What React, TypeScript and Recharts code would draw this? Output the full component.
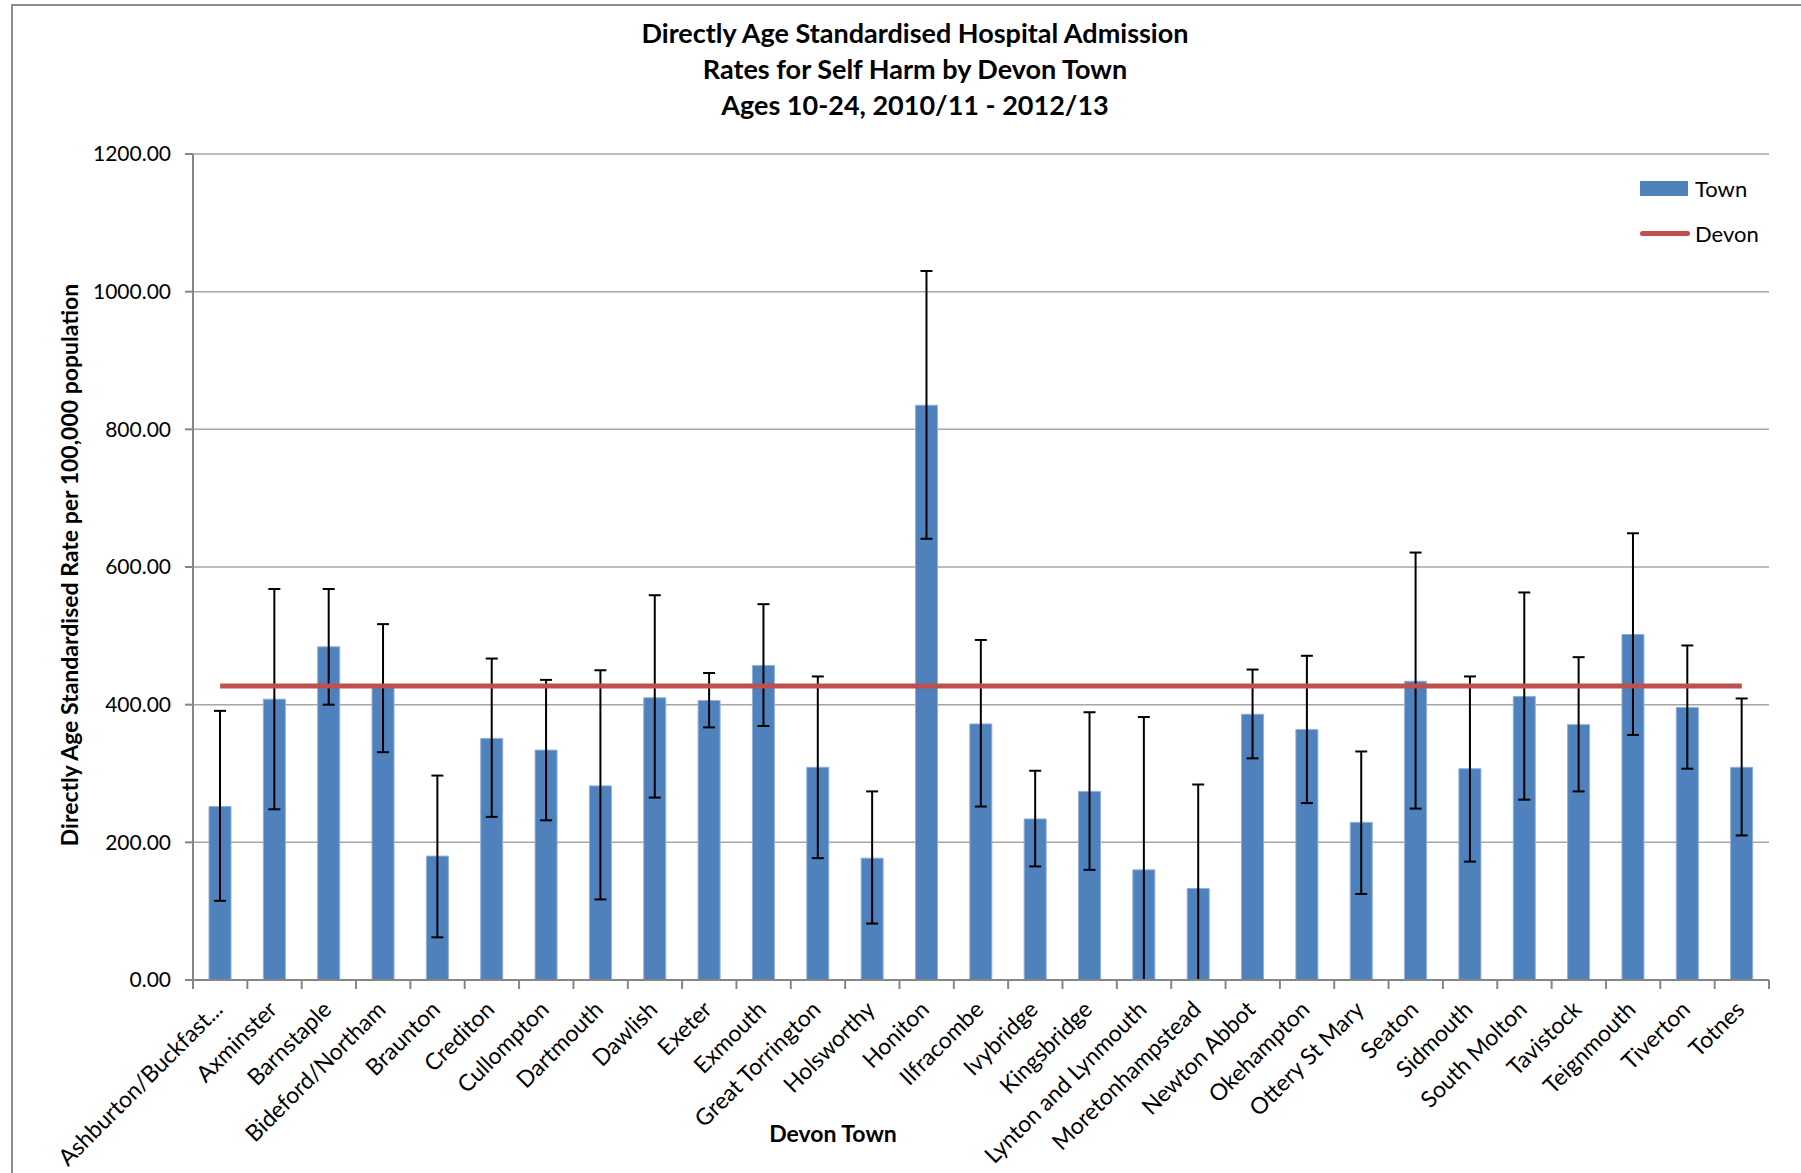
import React from 'react';
import { ComposedChart, Bar, Line, ErrorBar, XAxis, YAxis, CartesianGrid } from 'recharts';

const towns = [
  'Ashburton/Buckfast...', 'Axminster', 'Barnstaple', 'Bideford/Northam', 'Braunton', 'Crediton',
  'Cullompton', 'Dartmouth', 'Dawlish', 'Exeter', 'Exmouth', 'Great Torrington', 'Holsworthy',
  'Honiton', 'Ilfracombe', 'Ivybridge', 'Kingsbridge', 'Lynton and Lynmouth', 'Moretonhampstead',
  'Newton Abbot', 'Okehampton', 'Ottery St Mary', 'Seaton', 'Sidmouth', 'South Molton', 'Tavistock',
  'Teignmouth', 'Tiverton', 'Totnes',
];
const townRates = [252, 408, 484, 425, 180, 351, 334, 282, 410, 406, 457, 309, 177, 835, 372, 234, 274, 160, 133, 386, 364, 229, 434, 307, 412, 371, 502, 396, 309];
const lowerCI = [115, 248, 400, 331, 62, 237, 232, 117, 265, 367, 369, 177, 82, 641, 252, 165, 160, 0, 0, 322, 257, 125, 249, 172, 262, 274, 356, 307, 210];
const upperCI = [391, 568, 568, 517, 297, 467, 436, 450, 559, 446, 546, 441, 274, 1030, 494, 304, 389, 382, 284, 451, 471, 332, 621, 441, 563, 469, 649, 486, 409];
const devonRate = 427;
const yTicks = [0, 200, 400, 600, 800, 1000, 1200];

const data = towns.map((town, i) => ({
  town,
  rate: townRates[i],
  err: [townRates[i] - lowerCI[i], upperCI[i] - townRates[i]],
  devon: devonRate,
}));

const PLOT_LEFT = 193;
const PLOT_RIGHT = 1769;
const BAND = (PLOT_RIGHT - PLOT_LEFT) / towns.length;
const FONT = 'Lato, "Open Sans", sans-serif';

const TownTick = (props: any) => {
  const { x, y, payload, index } = props;
  return (
    <g>
      <line x1={x - BAND / 2} y1={y - 8} x2={x - BAND / 2} y2={y + 1} stroke="#868686" strokeWidth={2} />
      {index === towns.length - 1 && (
        <line x1={x + BAND / 2} y1={y - 8} x2={x + BAND / 2} y2={y + 1} stroke="#868686" strokeWidth={2} />
      )}
      <text
        x={x + 4}
        y={y + 23}
        textAnchor="end"
        transform={`rotate(-45, ${x + 4}, ${y + 23})`}
        fontFamily={FONT}
        fontSize={23}
        fill="#000"
      >
        {payload.value}
      </text>
    </g>
  );
};

export default function App() {
  return (
    <div style={{ position: 'absolute', left: 0, top: 0, width: 1801, height: 1173, background: '#fff', overflow: 'hidden' }}>
      <div style={{ position: 'absolute', left: 11, top: 4, width: 1820, height: 1200, borderLeft: '2px solid #8c8c8c', borderTop: '2px solid #8c8c8c' }} />
      <div style={{ position: 'absolute', left: 0, top: 15, width: 1830, textAlign: 'center', fontFamily: FONT, fontWeight: 700, fontSize: 27, lineHeight: '36px', color: '#000' }}>
        <div>Directly Age Standardised Hospital Admission</div>
        <div>Rates for Self Harm by Devon Town</div>
        <div>Ages 10-24, 2010/11 - 2012/13</div>
      </div>
      <div style={{ position: 'absolute', left: 69 - 400, top: 565 - 15, width: 800, height: 30, lineHeight: '30px', textAlign: 'center', transform: 'rotate(-90deg)', fontFamily: FONT, fontWeight: 700, fontSize: 23, color: '#000' }}>
        Directly Age Standardised Rate per 100,000 population
      </div>
      <div style={{ position: 'absolute', left: 833 - 150, top: 1119, width: 300, textAlign: 'center', fontFamily: FONT, fontWeight: 700, fontSize: 23, color: '#000' }}>
        Devon Town
      </div>
      <div style={{ position: 'absolute', left: 1640, top: 172, fontFamily: FONT, fontSize: 22, color: '#000' }}>
        <div style={{ display: 'flex', alignItems: 'center', height: 32 }}>
          <div style={{ width: 48, height: 15, background: '#4f81bd' }} />
          <span style={{ marginLeft: 7 }}>Town</span>
        </div>
        <div style={{ display: 'flex', alignItems: 'center', height: 32, marginTop: 13 }}>
          <div style={{ width: 50, height: 5, borderRadius: 3, background: '#c0504d' }} />
          <span style={{ marginLeft: 5 }}>Devon</span>
        </div>
      </div>
      <div style={{ position: 'absolute', left: 0, top: 0 }}>
        <ComposedChart width={1801} height={1173} data={data} margin={{ top: 154, right: 1801 - PLOT_RIGHT, bottom: 0, left: 73 }}>
          <CartesianGrid vertical={false} stroke="#a6a6a6" strokeWidth={1.5} />
          <XAxis
            dataKey="town"
            interval={0}
            height={193}
            axisLine={{ stroke: '#868686', strokeWidth: 2 }}
            tickLine={false}
            tick={<TownTick />}
          />
          <YAxis
            width={120}
            domain={[0, 1200]}
            ticks={yTicks}
            tickFormatter={(v: number) => v.toFixed(2)}
            axisLine={{ stroke: '#868686', strokeWidth: 2 }}
            tickLine={{ stroke: '#868686', strokeWidth: 2 }}
            tickSize={8}
            tickMargin={14}
            tick={{ fontFamily: FONT, fontSize: 21, fill: '#000' }}
          />
          <Bar dataKey="rate" name="Town" fill="#4f81bd" stroke="#8fb0d8" strokeWidth={1} barSize={22} isAnimationActive={false}>
            <ErrorBar dataKey="err" width={6} stroke="#000" strokeWidth={2} direction="y" />
          </Bar>
          <Line
            dataKey="devon"
            name="Devon"
            stroke="#c0504d"
            strokeWidth={5}
            dot={false}
            activeDot={false}
            isAnimationActive={false}
          />
        </ComposedChart>
      </div>
    </div>
  );
}
